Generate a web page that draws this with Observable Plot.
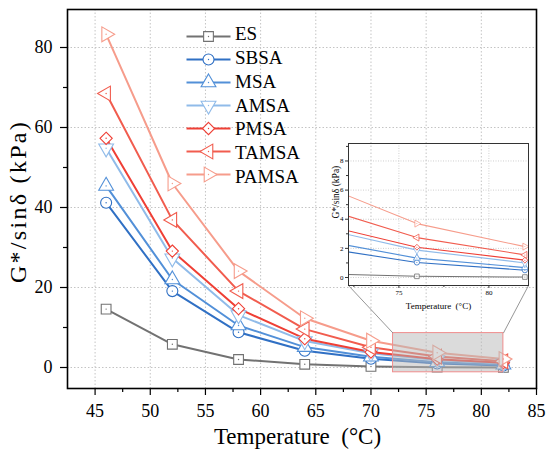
<!DOCTYPE html>
<html><head><meta charset="utf-8">
<script src="https://cdn.jsdelivr.net/npm/d3@7"></script>
<script src="https://cdn.jsdelivr.net/npm/@observablehq/plot@0.6"></script>
</head><body style="margin:0;padding:0;background:#fff;font-family:'Liberation Serif';">
<div id="wrap" style="position:relative;width:550px;height:457px;overflow:hidden;background:#fff;"></div>
<script>
// ---- data ----
const temps = [46, 52, 58, 64, 70, 76, 82];
const seriesNames = ["ES", "SBSA", "MSA", "AMSA", "PMSA", "TAMSA", "PAMSA"];
const ES    = [14.6, 5.8, 2.0, 0.8, 0.27, 0.08, 0.03];
const SBSA  = [41.2, 19.1, 8.8, 4.2, 2.17, 1.03, 0.50];
const MSA   = [45.4, 22.0, 10.5, 5.1, 2.70, 1.33, 0.68];
const AMSA  = [54.8, 27.3, 13.1, 6.6, 3.56, 1.88, 1.00];
const PMSA  = [57.3, 29.1, 14.7, 7.2, 3.85, 2.08, 1.19];
const TAMSA = [68.5, 36.9, 19.1, 9.6, 5.05, 2.74, 1.55];
const PAMSA = [83.3, 46.0, 24.1, 12.3, 6.70, 3.70, 2.12];
const seriesValues = [ES, SBSA, MSA, AMSA, PMSA, TAMSA, PAMSA];
const seriesColors = ["#727272", "#3070c4", "#5290d8", "#90bbe9", "#ef3f35", "#f15c4e", "#f69c8b"];
const seriesSymbols = ["square", "circle", "triangle", "triangle", "diamond2", "triangle", "triangle"];
const seriesRotate = [0, 0, 0, 180, 0, -90, 90];

const xTicks = [45, 50, 55, 60, 65, 70, 75, 80, 85];
const xMinor = [47.5, 52.5, 57.5, 62.5, 67.5, 72.5, 77.5, 82.5];
const yTicks = [0, 20, 40, 60, 80];
const yMinor = [10, 30, 50, 70];
const xDomain = [42.5, 85];
const yDomain = [-5.25, 89.5];

const zoomX = [72, 82];
const zoomY = [-1.2, 8.6];
const insetXDomain = [72.2, 82.2];
const insetYDomain = [-0.55, 9.2];
const insetXTicks = [75, 80];
const insetXMinor = [72.5, 77.5];
const insetYTicks = [0, 2, 4, 6, 8];
const insetYMinor = [1, 3, 5, 7, 9];

const xTitle = "Temperature  (°C)";
const yTitle = "G*/sinδ (kPa)";

// ---- build table ----
const rows = seriesNames.flatMap((name, i) =>
  temps.map((t, j) => ({series: name, temp: t, value: seriesValues[i][j]})));

const serif = "Liberation Serif";
const W = 550, H = 457;
const M = {l: 67, r: 14, t: 9, b: 69};
const IB = {left: 300, top: 130, width: 240, height: 185, ml: 48, mr: 12, mt: 13, mb: 30};
const LG = {left: 186, top: 22, rowH: 23.83, lineW: 44};

const xOpt = {domain: xDomain, range: [M.l, W - M.r]};
const yOpt = {domain: yDomain, range: [H - M.b, M.t]};
const xs = Plot.scale({x: xOpt});
const ys = Plot.scale({y: yOpt});

// inset frame corners in main data coordinates
const insetBL = {x: xs.invert(IB.left + IB.ml), y: ys.invert(IB.top + IB.height - IB.mb)};
const insetBR = {x: xs.invert(IB.left + IB.width - IB.mr), y: ys.invert(IB.top + IB.height - IB.mb)};
const connectors = [
  {x1: zoomX[0], y1: zoomY[1], x2: insetBL.x, y2: insetBL.y},
  {x1: zoomX[1], y1: zoomY[1], x2: insetBR.x, y2: insetBR.y}
];

function seriesMarks(r, sw, lw, clip) {
  const out = [];
  seriesNames.forEach((name, i) => {
    const d = rows.filter(r => r.series === name);
    out.push(Plot.line(d, {x: "temp", y: "value", stroke: seriesColors[i], strokeWidth: lw, clip}));
  });
  seriesNames.forEach((name, i) => {
    const d = rows.filter(r => r.series === name);
    out.push(Plot.dot(d, {x: "temp", y: "value", symbol: seriesSymbols[i], rotate: seriesRotate[i],
      r, stroke: seriesColors[i], strokeWidth: sw, fill: "white", clip}));
    out.push(Plot.dot(d, {x: "temp", y: "value", r: Math.max(0.5, r * 0.13), fill: seriesColors[i], stroke: null, clip}));
  });
  return out;
}

const main = Plot.plot({
  width: W, height: H,
  marginLeft: M.l, marginRight: M.r, marginTop: M.t, marginBottom: M.b,
  x: xOpt, y: yOpt,
  style: {fontFamily: "'Liberation Serif'", background: "transparent"},
  marks: [
    Plot.gridX(xTicks, {stroke: "#c4c4c4", strokeOpacity: 1, strokeDasharray: "1.5,2"}),
    Plot.gridY(yTicks, {stroke: "#c4c4c4", strokeOpacity: 1, strokeDasharray: "1.5,2"}),
    ...seriesMarks(5.5, 1.1, 2, false),
    Plot.rect([{x1: zoomX[0], x2: zoomX[1], y1: zoomY[0], y2: zoomY[1]}],
      {x1: "x1", x2: "x2", y1: "y1", y2: "y2", fill: "#b8b8b8", fillOpacity: 0.5, stroke: "#f08d8d", strokeWidth: 1}),
    Plot.link(connectors, {x1: "x1", y1: "y1", x2: "x2", y2: "y2", stroke: "#8a8a8a", strokeWidth: 0.9}),
    Plot.axisX(xTicks, {tickSize: 7, tickPadding: 9, fontSize: 18, label: null, strokeWidth: 1.2, color: "black"}),
    Plot.axisX(xMinor, {tickSize: 4, text: null, label: null, strokeWidth: 1.2, color: "black"}),
    Plot.axisY(yTicks, {tickSize: 7, tickPadding: 8, fontSize: 18, label: null, strokeWidth: 1.2, color: "black"}),
    Plot.axisY(yMinor, {tickSize: 4, text: null, label: null, strokeWidth: 1.2, color: "black"}),
    Plot.frame({stroke: "black", strokeWidth: 1.6})
  ]
});

const inset = Plot.plot({
  width: IB.width, height: IB.height,
  marginLeft: IB.ml, marginRight: IB.mr, marginTop: IB.mt, marginBottom: IB.mb,
  x: {domain: insetXDomain}, y: {domain: insetYDomain},
  style: {fontFamily: "'Liberation Serif'", background: "transparent", overflow: "visible"},
  marks: [
    Plot.gridX(insetXTicks, {stroke: "#cfcfcf", strokeOpacity: 1, strokeDasharray: "1,1.5"}),
    Plot.gridY(insetYTicks, {stroke: "#cfcfcf", strokeOpacity: 1, strokeDasharray: "1,1.5"}),
    ...seriesMarks(2.6, 0.8, 1.1, true),
    Plot.axisX(insetXTicks, {tickSize: 3, tickPadding: 2, fontSize: 7, label: null, stroke: "#333", fill: "black"}),
    Plot.axisX(insetXMinor, {tickSize: 2, text: null, label: null, stroke: "#333"}),
    Plot.axisY(insetYTicks, {tickSize: 3, tickPadding: 2, fontSize: 7, label: null, stroke: "#333", fill: "black"}),
    Plot.axisY(insetYMinor, {tickSize: 2, text: null, label: null, stroke: "#333"}),
    Plot.frame({stroke: "#333", strokeWidth: 1}),
    Plot.text([xTitle], {frameAnchor: "bottom", dy: 23, lineAnchor: "bottom", fontSize: 9, fill: "black"}),
    Plot.text([yTitle], {frameAnchor: "left", rotate: -90, dx: -10, dy: 4, lineAnchor: "bottom", fontSize: 9.5, fill: "black"})
  ]
});
inset.style.position = "absolute";
inset.style.left = IB.left + "px"; inset.style.top = IB.top + "px";

const legend = Plot.plot({
  width: 60, height: 167, margin: 0,
  x: {domain: [0, 1], range: [0, LG.lineW]},
  y: {type: "point", padding: 0, domain: seriesNames, range: [12, 12 + LG.rowH * (seriesNames.length - 1)]},
  axis: null,
  style: {background: "transparent", overflow: "visible"},
  marks: [
    ...seriesNames.map((name, i) => Plot.link([name], {x1: 0, x2: 1, y1: d => d, y2: d => d, stroke: seriesColors[i], strokeWidth: 2})),
    ...seriesNames.map((name, i) => Plot.dot([name], {x: 0.5, y: d => d, symbol: seriesSymbols[i], rotate: seriesRotate[i],
      r: 5.5, stroke: seriesColors[i], strokeWidth: 1.1, fill: "white"})),
    ...seriesNames.map((name, i) => Plot.dot([name], {x: 0.5, y: d => d, r: 0.7, fill: seriesColors[i]}))
  ]
});
legend.style.position = "absolute";
legend.style.left = LG.left + "px"; legend.style.top = LG.top + "px";

const wrap = document.getElementById("wrap");
wrap.appendChild(main);
wrap.appendChild(inset);
wrap.appendChild(legend);

// ---- HTML text (axis titles and legend labels) ----
function addText(txt, css) {
  const d = document.createElement("div");
  d.textContent = txt;
  Object.assign(d.style, {position: "absolute", whiteSpace: "pre", fontFamily: "'Liberation Serif'",
    lineHeight: "1", color: "black", left: "0px", top: "0px", transformOrigin: "0 0"}, css);
  wrap.appendChild(d);
  return d;
}
const frameCx = (M.l + W - M.r) / 2, frameCy = (M.t + H - M.b) / 2;
addText(xTitle, {fontSize: "23px", transform: `translate(${frameCx - 4}px, ${H - M.b + 56 - 19.3}px) translate(-50%, 0)`});
addText(yTitle, {fontSize: "24px", letterSpacing: "2.3px",
  transform: `translate(${M.l - 41}px, ${frameCy + 3}px) rotate(-90deg) translate(-50%, -20.1px)`});
const lgBox = document.createElement("div");
Object.assign(lgBox.style, {position: "absolute", left: (LG.left + LG.lineW + 5) + "px", top: (LG.top + 12 - LG.rowH / 2) + "px",
  fontFamily: "'Liberation Serif'", fontSize: "19px", color: "black"});
seriesNames.forEach(name => {
  const r = document.createElement("div");
  r.textContent = name;
  Object.assign(r.style, {height: LG.rowH + "px", lineHeight: LG.rowH + "px", whiteSpace: "nowrap"});
  lgBox.appendChild(r);
});
wrap.appendChild(lgBox);

d3.selectAll("#wrap svg").attr("font-family", serif).style("font-family", "'Liberation Serif'");
d3.selectAll("#wrap svg g").filter(function() { return this.hasAttribute("font-family"); }).attr("font-family", serif);
d3.selectAll("#wrap svg text").attr("font-family", serif).style("font-family", "'Liberation Serif'");
</script>
</body></html>
